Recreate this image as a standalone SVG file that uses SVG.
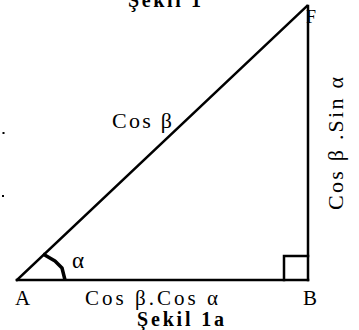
<svg xmlns="http://www.w3.org/2000/svg" width="359" height="330" viewBox="0 0 359 330">
<style>
.ln{stroke:#000;stroke-width:2.5;fill:none;stroke-linecap:square}
</style>
<rect width="359" height="330" fill="#fff"/>
<g id="connectors">
<line class="ln" x1="17" y1="280" x2="308" y2="280"/>
<line class="ln" x1="308" y1="6" x2="308" y2="280"/>
<line class="ln" x1="17" y1="280" x2="307" y2="6"/>
<polyline class="ln" points="284,280 284,256 308,256" stroke-width="2"/>
<path d="M43,254 L55,261 L62,268 L65,280" stroke="#000" stroke-width="3.5" fill="none" stroke-linejoin="round"/>
</g>
<g font-family="Liberation Serif" fill="#000">
<g id="node-A"><text x="15" y="305" font-size="21">A</text></g>
<g id="node-B"><text x="303" y="305" font-size="21">B</text></g>
<g id="node-F"><text x="306" y="23" font-size="18">F</text></g>
<g id="label-alpha"><text x="72" y="268" font-size="23">α</text></g>
<g id="label-hyp"><text x="112" y="128" font-size="22" textLength="60">Cos β</text></g>
<g id="label-base"><text x="85" y="305" font-size="21" textLength="133">Cos β.Cos α</text></g>
<g id="label-vert"><text transform="translate(343,210) rotate(-90)" font-size="22" textLength="133">Cos β .Sin α</text></g>
<g id="title-top"><text font-weight="bold" x="128" y="7" font-size="20" textLength="73">Şekil 1</text></g>
<g id="title-bottom"><text font-weight="bold" x="137" y="326" font-size="20" textLength="87">Şekil 1a</text></g>
</g>
<g id="dots">
<rect x="2.5" y="132" width="2" height="2" fill="#000"/>
<rect x="2" y="195" width="2" height="2" fill="#000"/>
</g>
</svg>
